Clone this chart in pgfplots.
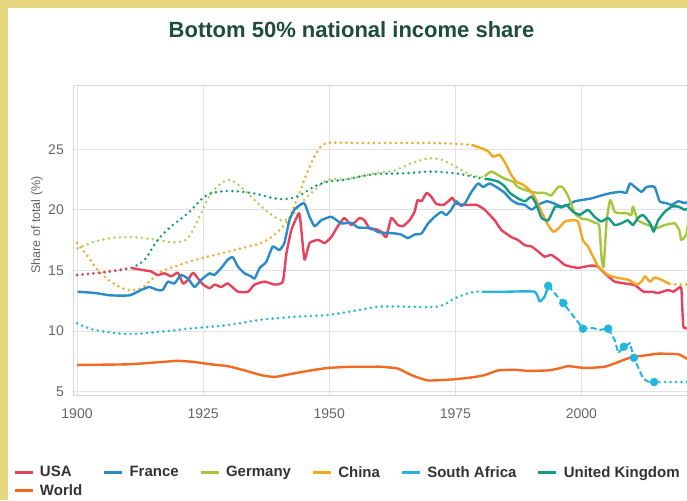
\documentclass[border=0pt]{standalone}
\usepackage{fontspec}
\setmainfont{Liberation Sans}
\usepackage{pgfplots}
\pgfplotsset{compat=1.18}
\definecolor{cUSA}{HTML}{E8415B}
\definecolor{cFRA}{HTML}{2A8BC6}
\definecolor{cGER}{HTML}{A6C640}
\definecolor{cCHN}{HTML}{F0A820}
\definecolor{cZAF}{HTML}{23B5DD}
\definecolor{cGBR}{HTML}{169A86}
\definecolor{cWLD}{HTML}{F26A22}
\definecolor{cBeige}{HTML}{E6D680}
\definecolor{cTitle}{HTML}{1E4D3E}
\definecolor{cGrid}{HTML}{E2E2E2}
\definecolor{cAxis}{HTML}{D6D6D6}
\definecolor{cTick}{HTML}{666666}
\definecolor{cLegend}{HTML}{333333}
\begin{document}
\begin{tikzpicture}[x=1pt,y=1pt]
\useasboundingbox (0pt,0pt) rectangle (687pt,500pt);
\clip (0pt,0pt) rectangle (687pt,500pt);
\fill[cBeige] (0pt,0pt) rectangle (687pt,500pt);
\fill[white] (7.5pt,0pt) rectangle (687pt,492pt);
\node[font=\bfseries\fontsize{22}{26}\selectfont, text=cTitle] at (351.5pt,470pt) {Bottom 50\% national income share};
\begin{axis}[
  at={(73pt,105pt)}, anchor=south west,
  scale only axis, width=627pt, height=309pt,
  xmin=1899.2, xmax=2023.5, ymin=4.73, ymax=30.22,
  xtick={1900,1925,1950,1975,2000}, ytick={5,10,15,20,25},
  grid=major, grid style={draw=cGrid, line width=1pt},
  axis line style={draw=cAxis, line width=1pt},
  major tick length=0pt,
  tick label style={font=\fontsize{14}{16}\selectfont, text=cTick},
  /pgf/number format/assume math mode=true,
  /pgf/number format/1000 sep={},
  xticklabel style={inner sep=0pt, anchor=north, yshift=-14pt},
  yticklabel style={inner sep=0pt, anchor=east, xshift=-9pt},
  ylabel={Share of total (\%)},
  every axis y label/.style={at={(axis description cs:-0.0575,0.55)}, rotate=90, anchor=center, font=\fontsize{12.5}{14}\selectfont, text=cTick},
  legend style={at={(axis description cs:-0.0957,-0.2235)}, anchor=north west, draw=none, fill=none, inner sep=0pt,
    font=\bfseries\fontsize{15}{18}\selectfont, text=cLegend, legend columns=6, legend cell align=left,
    /tikz/every odd column/.append style={column sep=4pt},
    /tikz/every even column/.append style={column sep=18.5pt}, row sep=2pt},
  legend image code/.code={\draw[#1, solid, line width=2.8pt] (0pt,0pt) -- (18pt,0pt);},
  dotline/.style={line width=2.8pt, dash pattern=on 0pt off 5.5pt, line cap=round, forget plot, smooth},
  solidline/.style={line width=2.4pt, line join=round, smooth, tension=0.3},
]
% ---- dotted (estimated) parts ----
\addplot[dotline, cGER, opacity=0.85] coordinates {
(1900.1,16.83)(1903.4,17.37)(1906.7,17.67)(1910,17.76)(1913.4,17.67)(1916.7,17.47)(1919.3,17.32)(1922,17.67)
(1924.6,19.73)(1926.6,21.40)(1929.9,22.48)(1932.5,21.89)(1935.2,20.81)(1937.8,19.83)(1940.5,19.14)(1942.5,19.43)
(1944.4,20.56)(1947.1,21.64)(1949.7,22.48)(1953,22.52)(1956.3,22.77)(1959.6,23.07)(1963,23.26)(1966.3,23.85)
(1969.6,24.24)(1972.2,24.15)(1974.9,23.60)(1977,23.1)(1978.2,22.85)(1980.8,22.7)};
\addplot[dotline, cCHN] coordinates {
(1900,17.27)(1902.1,16.19)(1904.1,15.06)(1906.7,14.08)(1910,13.39)(1912.7,13.54)(1914.7,14.23)(1916.7,14.92)
(1919.3,15.31)(1922,15.70)(1925.9,16.14)(1929.9,16.54)(1933.9,16.98)(1936.5,17.27)(1939.2,17.96)(1941.8,19.14)
(1943.8,21.10)(1945.8,23.26)(1947.8,24.93)(1949.7,25.52)(1955,25.52)(1960,25.52)(1970,25.52)(1975,25.45)(1978.2,25.37)};
\addplot[dotline, cCHN] coordinates {(2017.5,13.88)(2019,13.86)(2021.2,13.84)};
\addplot[dotline, cZAF] coordinates {
(1900,10.64)(1903.4,10.10)(1910,9.76)(1916.7,9.96)(1923.3,10.25)(1929.9,10.50)(1936.5,10.94)(1943.1,11.18)
(1949.7,11.33)(1956.3,11.77)(1960,12.02)(1965,12.02)(1971.6,12.02)(1974.9,12.71)(1978.2,13.20)(1980.2,13.25)};
\addplot[dotline, cZAF] coordinates {(2014.4,5.80)(2018,5.80)(2021.2,5.80)};
\addplot[dotline, cGBR] coordinates {
(1900,14.62)(1903.4,14.77)(1906.7,14.92)(1910.7,15.21)(1913.4,15.90)(1916,17.52)(1918.7,18.65)(1922,19.73)
(1925.3,21.10)(1927.9,21.49)(1931.2,21.54)(1935.2,21.35)(1939.2,20.95)(1941.8,20.91)(1944.4,21.25)(1947.1,21.94)
(1949.7,22.33)(1953,22.48)(1956.3,22.77)(1959.7,22.97)(1965,23.02)(1970.2,23.16)(1974.9,23.02)(1978.2,22.77)(1980.8,22.55)};
\addplot[dotline, cUSA] coordinates {(1900,14.62)(1905,14.85)(1910.7,15.21)};
% ---- solid parts ----
\addplot[solidline, cUSA] coordinates {
(1910.7,15.21)(1913.4,15.01)(1914.7,14.92)(1916,14.62)(1917.3,14.77)(1918.7,14.52)(1920,14.82)(1921,13.93)
(1922,14.23)(1923,14.82)(1924,14.33)(1925,13.84)(1926.3,13.54)(1927.3,13.84)(1928.6,13.64)(1929.9,13.93)
(1931.9,13.25)(1933.9,13.25)(1935.2,13.84)(1937.2,14.08)(1939.2,13.84)(1940.8,14.08)(1941.5,16.39)(1942.5,18.35)
(1944,19.73)(1944.4,18.65)(1945.1,15.90)(1946.1,17.27)(1947.8,17.52)(1949.1,17.27)(1950.4,17.76)(1951.7,18.65)
(1953,19.33)(1954.4,18.75)(1956,19.33)(1957,19.14)(1958,18.45)(1959.3,18.40)(1960.3,18.20)(1961.3,17.76)
(1962.3,19.33)(1963.6,18.75)(1964.6,18.65)(1965.9,19.14)(1966.9,19.83)(1967.5,20.81)(1968.3,20.71)(1969.3,21.40)
(1970.2,21.10)(1971.2,20.51)(1972.6,20.41)(1973.6,20.71)(1974.4,21.00)(1975.2,20.51)(1976.8,20.41)(1979.2,20.41)
(1980.8,20.02)(1982.8,19.14)(1984.1,18.35)(1986.1,17.76)(1987.4,17.52)(1988.8,17.08)(1990.1,16.98)(1991.4,16.58)
(1992.7,16.14)(1994,16.29)(1995.4,15.90)(1996.7,15.46)(1998,15.31)(1999.3,15.21)(2000.6,15.31)(2002,15.41)
(2003.3,15.31)(2004,15.01)(2005.3,14.52)(2006.6,14.08)(2008.6,13.93)(2010.6,13.79)(2012.3,13.25)(2013.9,13.25)
(2015.2,13.15)(2017.2,13.39)(2018.2,13.25)(2019.2,13.54)(2019.8,13.50)(2020.2,10.40)(2021.2,10.25)};
\addlegendentry{USA}
\addplot[solidline, cFRA] coordinates {
(1900.1,13.25)(1903.4,13.15)(1906.7,12.95)(1910.4,12.95)(1912.7,13.39)(1914.3,13.64)(1916,13.39)(1917,13.39)
(1918,14.08)(1919.3,13.93)(1920.6,14.62)(1922,14.33)(1923.3,13.64)(1924.6,14.23)(1926.3,14.77)(1927.2,14.62)
(1928.6,15.21)(1929.9,15.90)(1930.9,16.09)(1931.9,15.31)(1933.2,14.77)(1934.5,14.52)(1935.2,14.33)(1936.2,15.21)
(1937.5,15.70)(1938.8,16.98)(1940.1,16.68)(1941.1,17.27)(1942.1,19.14)(1943.1,20.02)(1945,20.56)(1946.1,19.43)
(1947.1,18.65)(1948.4,19.14)(1950.4,19.43)(1952.4,18.89)(1954.4,18.94)(1955.7,18.55)(1958.3,18.50)(1959.7,18.16)
(1961.5,18.10)(1963,18.06)(1964.3,17.96)(1965.6,17.67)(1966.9,17.96)(1968.3,18.06)(1969.6,18.89)(1970.9,19.43)
(1972.2,19.83)(1973.2,19.58)(1974.2,20.02)(1975.2,20.71)(1976.2,20.32)(1977,20.60)(1978.2,21.49)(1979.5,22.18)
(1980.5,21.89)(1981.8,22.18)(1983.5,21.79)(1984.8,21.40)(1986.1,20.81)(1987.4,20.51)(1988.8,20.41)(1990.1,20.02)
(1991.4,20.41)(1993.1,20.71)(1994.4,20.56)(1996,20.27)(1997.3,20.41)(1998.7,20.71)(2000,20.81)(2002,20.95)
(2004,21.20)(2006,21.40)(2007.9,21.49)(2008.9,21.40)(2009.6,22.18)(2010.6,21.89)(2011.9,21.49)(2012.9,21.89)
(2014.5,21.89)(2015.5,20.71)(2016.8,20.56)(2017.9,20.41)(2019.2,20.71)(2020.5,20.56)(2021.2,20.71)};
\addlegendentry{France}
\addplot[solidline, cGER] coordinates {
(1980.8,22.77)(1982.1,23.16)(1983.5,22.87)(1984.8,22.57)(1986.4,22.33)(1987.4,21.89)(1988.8,21.64)(1990.1,21.49)
(1991.4,21.40)(1992.7,21.40)(1994,21.20)(1995.4,21.89)(1996.2,21.89)(1997.3,21.20)(1998.7,19.73)(2000,19.28)
(2001.3,19.20)(2002.6,18.94)(2003.5,18.75)(2004,16.00)(2004.4,15.31)(2005,19.14)(2005.7,20.81)(2006.6,19.83)
(2007.6,19.73)(2008.9,19.73)(2009.9,19.58)(2010.2,20.27)(2011.2,19.14)(2013.2,18.75)(2014.9,18.50)(2016.5,18.75)
(2018.5,18.89)(2019.4,18.30)(2019.8,17.52)(2020.8,17.96)(2021.2,19.14)};
\addlegendentry{Germany}
\addplot[solidline, cCHN] coordinates {
(1978.2,25.37)(1980.2,25.08)(1981.5,24.83)(1982.5,24.39)(1983.8,24.54)(1985.1,23.70)(1986.1,22.87)(1987.1,22.33)
(1988.4,22.08)(1989.7,21.64)(1990.7,21.10)(1992.1,19.83)(1993.4,18.75)(1994.4,18.20)(1995.4,18.45)(1996.7,19.04)
(1998,19.14)(1999.3,19.04)(2000.3,17.50)(2001.3,16.98)(2002.3,16.14)(2003.3,15.31)(2004,15.06)(2005.3,14.62)
(2007.3,14.38)(2009.3,14.23)(2010.9,13.84)(2011.9,14.08)(2012.6,14.52)(2013.6,14.08)(2014.5,14.42)(2015.9,14.23)(2017.5,13.88)};
\addlegendentry{China}
\addplot[solidline, cZAF] coordinates {
(1980.2,13.25)(1985,13.25)(1990.7,13.25)(1991.7,12.46)(1992.7,12.85)(1993.4,13.74)};
\addlegendentry{South Africa}
\addplot[solidline, cGBR] coordinates {
(1980.8,22.57)(1982,22.50)(1983.5,22.33)(1984.8,21.94)(1985.8,21.40)(1987.4,20.95)(1988.8,20.71)(1990.1,21.10)
(1991.1,20.41)(1992.1,19.33)(1993.4,19.14)(1994.8,20.27)(1996,20.20)(1997,20.41)(1998.4,19.83)(1999.7,19.60)
(2001.3,20.00)(2002.6,19.43)(2003.9,19.04)(2005.3,19.33)(2006.6,18.75)(2007.9,18.89)(2009.2,19.14)(2010.2,18.75)
(2011.2,19.33)(2012.2,19.58)(2013.6,18.89)(2014.3,18.20)(2015.2,19.14)(2016.5,19.83)(2017.9,20.27)(2019.2,20.27)
(2020.4,20.02)(2021.2,20.10)};
\addlegendentry{United Kingdom}
\addplot[solidline, cWLD] coordinates {
(1900,7.21)(1910,7.26)(1916.7,7.45)(1920,7.55)(1923.3,7.45)(1926.6,7.26)(1929.9,7.11)(1933.2,6.76)
(1936.5,6.37)(1939.2,6.22)(1943.1,6.52)(1946.4,6.76)(1949.7,6.96)(1954.4,7.06)(1958.3,7.06)(1960.3,7.06)
(1963.6,6.91)(1966.3,6.37)(1969.6,5.93)(1974.9,6.03)(1978.2,6.18)(1980.8,6.37)(1983.5,6.76)(1986.8,6.81)
(1989.4,6.72)(1993.4,6.76)(1995.4,6.91)(1997.4,7.11)(2000.6,6.96)(2004.6,7.06)(2007.3,7.45)(2009.9,7.85)
(2012.6,7.99)(2015.2,8.14)(2019.2,8.09)(2020.8,7.75)(2021.2,7.70)};
\addlegendentry{World}
% ---- South Africa, survey years ----
\addplot[cZAF, line width=2pt, dash pattern=on 6pt off 3pt, forget plot] coordinates {
(1993.4,13.74)(1996.4,12.31)(2000.3,10.20)(2002.3,10.25)(2003.5,10.10)(2005.3,10.20)(2006.6,9.27)(2007.3,8.19)
(2008.4,8.71)(2009.6,9.00)(2010.4,7.80)(2012.2,6.10)(2013.2,5.83)(2014.4,5.80)};
\addplot[only marks, mark=*, mark size=4pt, cZAF, forget plot] coordinates {
(1993.4,13.74)(1996.4,12.31)(2000.3,10.20)(2005.3,10.20)(2008.4,8.71)(2010.4,7.80)(2014.4,5.80)};
\end{axis}
\end{tikzpicture}
\end{document}
